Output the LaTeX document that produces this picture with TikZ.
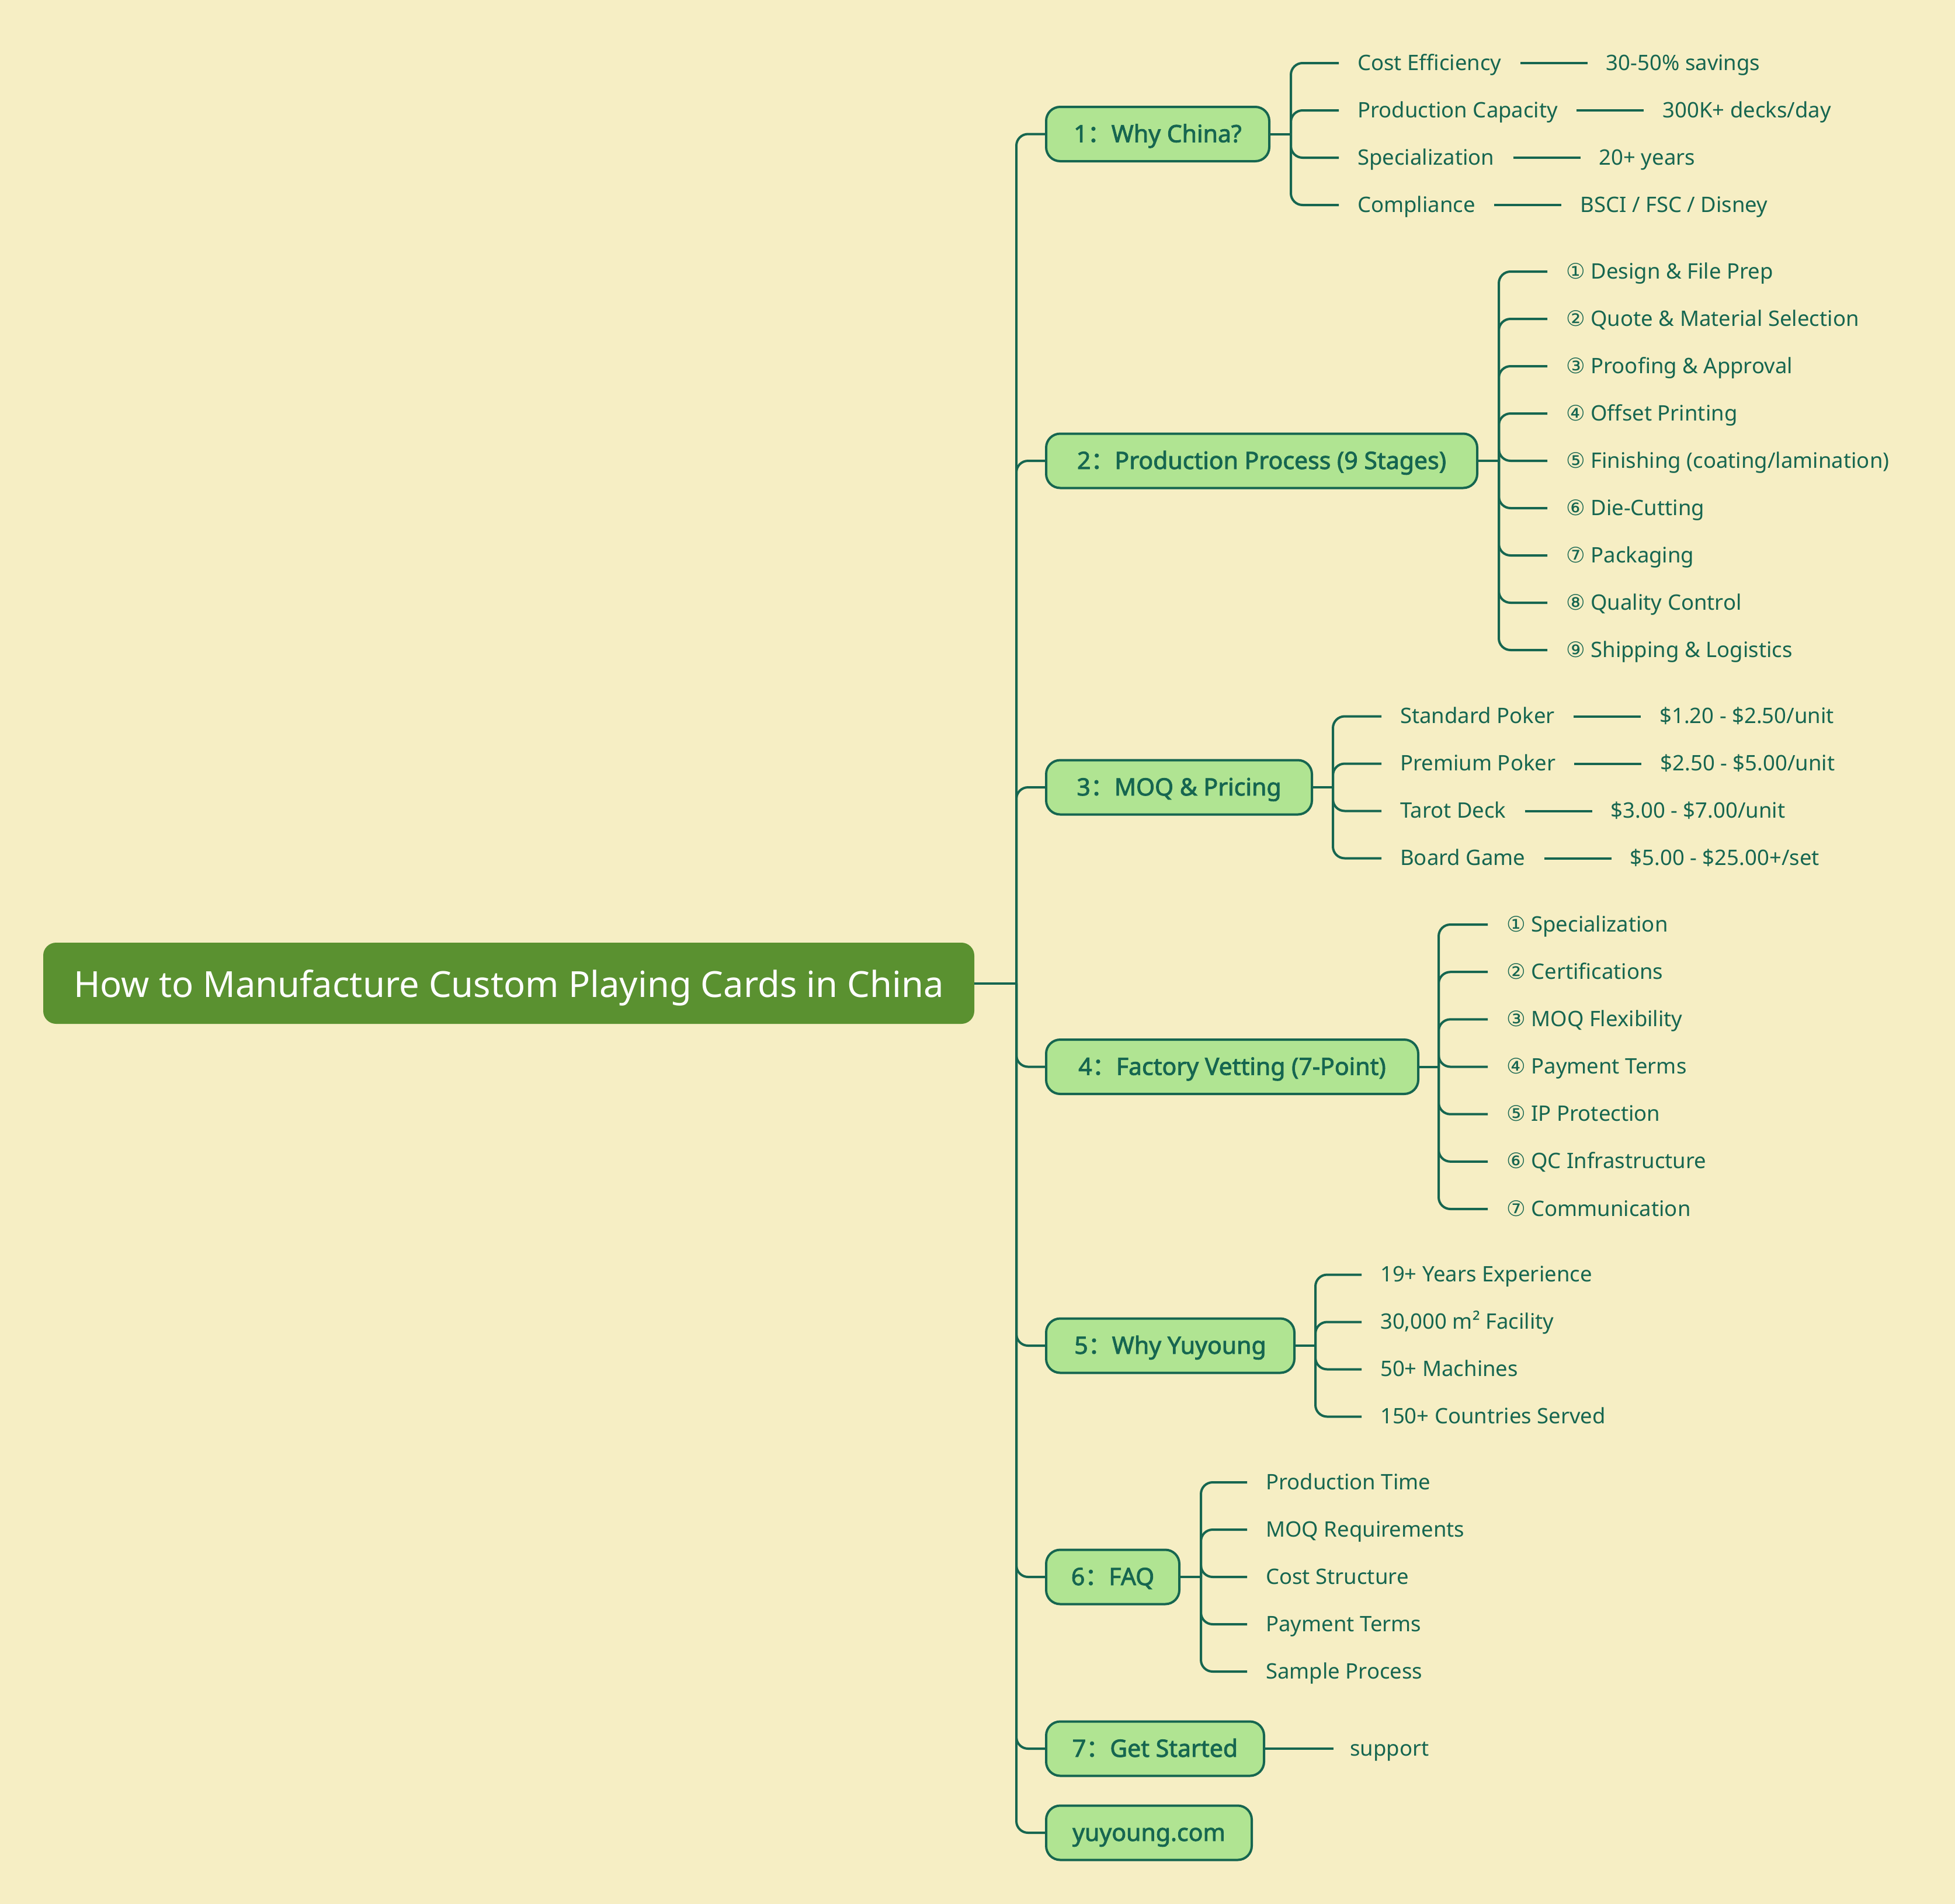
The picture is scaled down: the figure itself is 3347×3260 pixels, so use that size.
\documentclass[tikz,border=0pt]{standalone}
\usepackage{fontspec}
\setmainfont{Noto Sans}[AutoFakeBold=2.2]
\newfontfamily\symf{DejaVu Sans}
\newfontfamily\cjk{Noto Sans CJK SC}[AutoFakeBold=2.2]
\usetikzlibrary{positioning}
\definecolor{bg}{RGB}{246,238,196}
\definecolor{rootc}{RGB}{90,145,48}
\definecolor{brc}{RGB}{176,228,146}
\definecolor{ink}{RGB}{22,102,80}
\newcommand{\leaffont}{\fontsize{36.5}{44}\selectfont}
\newcommand{\brfont}{\fontsize{41}{48}\selectfont\bfseries}
\newcommand{\rootfont}{\fontsize{61.5}{72}\selectfont}
\newcommand{\cnum}[1]{{\symf #1}}
\newcommand{\fcolon}{{\cjk ：}}
\tikzset{
  conn/.style={draw=ink, line width=4pt},
  rconn/.style={draw=ink, line width=4pt, rounded corners=20pt},
  rootbox/.style={rectangle, rounded corners=22pt, fill=rootc, text=white, font=\rootfont,
    minimum height=139pt, inner xsep=0pt, inner ysep=0pt, text height=48pt, text depth=0pt},
  brbox/.style={rectangle, rounded corners=24pt, fill=brc, draw=ink, line width=4pt, text=ink,
    font=\brfont, minimum height=93pt, inner xsep=20pt, inner ysep=0pt, anchor=west,
    text height=32pt, text depth=4pt},
  leaf/.style={text=ink, font=\leaffont, inner xsep=32pt, inner ysep=0pt, anchor=west,
    text height=30pt, text depth=6pt}
}
\begin{document}
\begin{tikzpicture}[x=1pt,y=-1pt]
\fill[bg] (0,0) rectangle (3347,3260);
\useasboundingbox (0,0) rectangle (3347,3260);

% root
\node[rootbox, minimum width=1594pt] (root) at (871,1683.5) {How to Manufacture Custom Playing Cards in China};
\coordinate (T) at (1740,1683.5);
\draw[conn] (root.east) -- (T);

% branches
\node[brbox, minimum width=382pt] (b1) at (1789,229.5) {1\fcolon Why China?};
\node[brbox, minimum width=738pt] (b2) at (1789,789) {2\fcolon Production Process (9 Stages)};
\node[brbox, minimum width=455pt] (b3) at (1789,1348) {3\fcolon MOQ \& Pricing};
\node[brbox, minimum width=637pt] (b4) at (1789,1826.5) {4\fcolon Factory Vetting (7-Point)};
\node[brbox, minimum width=425pt] (b5) at (1789,2304) {5\fcolon Why Yuyoung};
\node[brbox, minimum width=228pt] (b6) at (1789,2700) {6\fcolon FAQ};
\node[brbox, minimum width=373pt] (b7) at (1789,2994) {7\fcolon Get Started};
\node[brbox, minimum width=352pt] (b8) at (1789,3138) {yuyoung.com};

\foreach \b in {b1,b2,b3,b4,b5,b6,b7,b8} \draw[rconn] (T) |- (\b.west);

% branch 1
\coordinate (B1) at (2210,229.5);
\draw[conn] (b1.east) -- (B1);
\node[leaf] (c11) at (2292,108) {Cost Efficiency};
\node[leaf] (c12) at (2292,189) {Production Capacity};
\node[leaf] (c13) at (2292,270) {Specialization};
\node[leaf] (c14) at (2292,351) {Compliance};
\node[leaf, right=115pt of c11] (v11) {30-50\% savings};
\node[leaf, right=115pt of c12] (v12) {300K+ decks/day};
\node[leaf, right=115pt of c13] (v13) {20+ years};
\node[leaf, right=115pt of c14] (v14) {BSCI / FSC / Disney};
\foreach \i in {1,2,3,4} {
  \draw[rconn] (B1) |- (c1\i.west);
  \draw[conn] (c1\i.east) -- (v1\i.west);
}

% branch 2
\coordinate (B2) at (2566,789);
\draw[conn] (b2.east) -- (B2);
\node[leaf] (c21) at (2649,465) {\cnum{①} Design \& File Prep};
\node[leaf] (c22) at (2649,546) {\cnum{②} Quote \& Material Selection};
\node[leaf] (c23) at (2649,627) {\cnum{③} Proofing \& Approval};
\node[leaf] (c24) at (2649,708) {\cnum{④} Offset Printing};
\node[leaf] (c25) at (2649,789) {\cnum{⑤} Finishing (coating/lamination)};
\node[leaf] (c26) at (2649,870) {\cnum{⑥} Die-Cutting};
\node[leaf] (c27) at (2649,951) {\cnum{⑦} Packaging};
\node[leaf] (c28) at (2649,1032) {\cnum{⑧} Quality Control};
\node[leaf] (c29) at (2649,1113) {\cnum{⑨} Shipping \& Logistics};
\foreach \i in {1,2,3,4,5,6,7,8,9} \draw[rconn] (B2) |- (c2\i.west);

% branch 3
\coordinate (B3) at (2282,1348);
\draw[conn] (b3.east) -- (B3);
\node[leaf] (c31) at (2365,1226.5) {Standard Poker};
\node[leaf] (c32) at (2365,1307.5) {Premium Poker};
\node[leaf] (c33) at (2365,1388.5) {Tarot Deck};
\node[leaf] (c34) at (2365,1469.5) {Board Game};
\node[leaf, right=115pt of c31] (v31) {\$1.20 - \$2.50/unit};
\node[leaf, right=115pt of c32] (v32) {\$2.50 - \$5.00/unit};
\node[leaf, right=115pt of c33] (v33) {\$3.00 - \$7.00/unit};
\node[leaf, right=115pt of c34] (v34) {\$5.00 - \$25.00+/set};
\foreach \i in {1,2,3,4} {
  \draw[rconn] (B3) |- (c3\i.west);
  \draw[conn] (c3\i.east) -- (v3\i.west);
}

% branch 4
\coordinate (B4) at (2463,1826.5);
\draw[conn] (b4.east) -- (B4);
\node[leaf] (c41) at (2547,1583) {\cnum{①} Specialization};
\node[leaf] (c42) at (2547,1664.2) {\cnum{②} Certifications};
\node[leaf] (c43) at (2547,1745.3) {\cnum{③} MOQ Flexibility};
\node[leaf] (c44) at (2547,1826.5) {\cnum{④} Payment Terms};
\node[leaf] (c45) at (2547,1907.7) {\cnum{⑤} IP Protection};
\node[leaf] (c46) at (2547,1988.8) {\cnum{⑥} QC Infrastructure};
\node[leaf] (c47) at (2547,2070) {\cnum{⑦} Communication};
\foreach \i in {1,2,3,4,5,6,7} \draw[rconn] (B4) |- (c4\i.west);

% branch 5
\coordinate (B5) at (2252,2304);
\draw[conn] (b5.east) -- (B5);
\node[leaf] (c51) at (2331,2182.5) {19+ Years Experience};
\node[leaf] (c52) at (2331,2263.5) {30,000 m² Facility};
\node[leaf] (c53) at (2331,2344.5) {50+ Machines};
\node[leaf] (c54) at (2331,2425.5) {150+ Countries Served};
\foreach \i in {1,2,3,4} \draw[rconn] (B5) |- (c5\i.west);

% branch 6
\coordinate (B6) at (2056,2700);
\draw[conn] (b6.east) -- (B6);
\node[leaf] (c61) at (2135,2538) {Production Time};
\node[leaf] (c62) at (2135,2619) {MOQ Requirements};
\node[leaf] (c63) at (2135,2700) {Cost Structure};
\node[leaf] (c64) at (2135,2781) {Payment Terms};
\node[leaf] (c65) at (2135,2862) {Sample Process};
\foreach \i in {1,2,3,4,5} \draw[rconn] (B6) |- (c6\i.west);

% branch 7
\node[leaf, inner xsep=28pt] (c71) at (2283,2994) {support};
\draw[conn] (b7.east) -- (c71.west);
\end{tikzpicture}
\end{document}
